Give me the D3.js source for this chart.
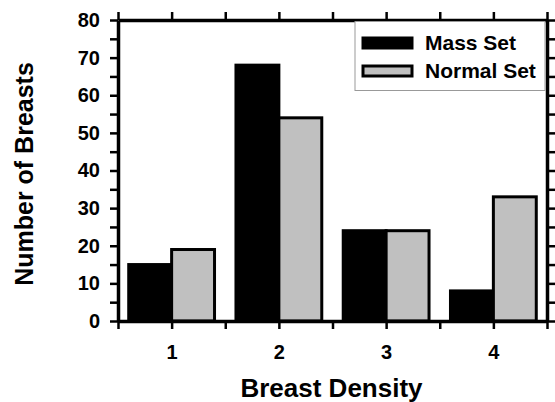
<!DOCTYPE html>
<html>
<head>
<meta charset="utf-8">
<script src="https://cdn.jsdelivr.net/npm/d3@7"></script>
<style>
  html, body { margin: 0; padding: 0; background: #fff; }
  svg { display: block; }
  text { font-family: "Liberation Sans", Arial, Helvetica, sans-serif; font-weight: bold; fill: #000; }
</style>
</head>
<body>
<svg id="chart" width="555" height="402"></svg>
<script>
const categories = [1, 2, 3, 4];
const massSet = [15, 68, 24, 8];
const normalSet = [19, 54, 24, 33];
const seriesNames = ["Mass Set", "Normal Set"];
const seriesColors = ["#000000", "#c0c0c0"];
const yTickValues = [0, 5, 10, 15, 20, 25, 30, 35, 40, 45, 50, 55, 60, 65, 70, 75, 80];
const xTickValues = [0.5, 1, 1.5, 2, 2.5, 3, 3.5, 4, 4.5];
const xTitle = "Breast Density";
const yTitle = "Number of Breasts";

(function () {
const svg = d3.select("#chart");
const pl = 118, pr = 547, pt = 20, pb = 321;
const x = d3.scaleLinear().domain([0.5, 4.5]).range([pl, pr]);
const y = d3.scaleLinear().domain([0, 80]).range([pb, pt]);
const barW = 0.4;

const series = [massSet, normalSet];
series.forEach((vals, si) => {
  svg.append("g").selectAll("rect")
    .data(categories.map((c, i) => ({ c, v: vals[i] })))
    .join("rect")
    .attr("x", d => x(d.c + (si === 0 ? -barW : 0)))
    .attr("width", d => x(d.c + barW) - x(d.c))
    .attr("y", d => y(d.v))
    .attr("height", d => y(0) - y(d.v))
    .attr("fill", seriesColors[si])
    .attr("stroke", "#000")
    .attr("stroke-width", 3);
});

function styleAxis(g) {
  g.attr("font-family", null).attr("font-size", null);
  g.select(".domain").attr("stroke", "#000").attr("stroke-width", 3.5);
  g.selectAll(".tick line").attr("stroke", "#000").attr("stroke-width", 2.5);
  g.selectAll(".tick text")
    .attr("font-family", "'Liberation Sans', Arial, sans-serif")
    .attr("font-weight", "bold")
    .attr("font-size", 20)
    .attr("fill", "#000");
}

svg.append("g").attr("transform", `translate(${pl},0)`)
  .call(d3.axisLeft(y).tickValues(yTickValues).tickSize(8).tickSizeOuter(0).tickPadding(10)
    .tickFormat(d => d % 10 === 0 ? d : ""))
  .call(styleAxis);

svg.append("g").attr("transform", `translate(${pr},0)`)
  .call(d3.axisRight(y).tickValues(yTickValues).tickSize(8).tickSizeOuter(0).tickFormat(""))
  .call(styleAxis);

svg.append("g").attr("transform", `translate(0,${pb})`)
  .call(d3.axisBottom(x).tickValues(xTickValues).tickSize(8).tickSizeOuter(0).tickPadding(16)
    .tickFormat(d => categories.includes(d) ? d : ""))
  .call(styleAxis);

svg.append("g").attr("transform", `translate(0,${pt})`)
  .call(d3.axisTop(x).tickValues(xTickValues).tickSize(8).tickSizeOuter(0).tickFormat(""))
  .call(styleAxis);

svg.append("text")
  .attr("x", (pl + pr) / 2 - 1)
  .attr("y", 397)
  .attr("text-anchor", "middle")
  .attr("font-size", 26)
  .text(xTitle);

svg.append("text")
  .attr("transform", `translate(33,174) rotate(-90)`)
  .attr("text-anchor", "middle")
  .attr("font-size", 25)
  .text(yTitle);

const lg = svg.append("g");
lg.append("rect")
  .attr("x", 355).attr("y", pt + 1.5)
  .attr("width", 190).attr("height", 69)
  .attr("fill", "#fff").attr("stroke", "#999").attr("stroke-width", 1);
seriesNames.forEach((name, i) => {
  const yy = 43 + i * 28;
  lg.append("rect")
    .attr("x", 363).attr("y", yy - 5)
    .attr("width", 49).attr("height", 10)
    .attr("fill", seriesColors[i]).attr("stroke", "#000").attr("stroke-width", 3);
  lg.append("text")
    .attr("x", 425).attr("y", yy + 7)
    .attr("font-size", 21)
    .text(name);
});
})();
</script>
</body>
</html>
